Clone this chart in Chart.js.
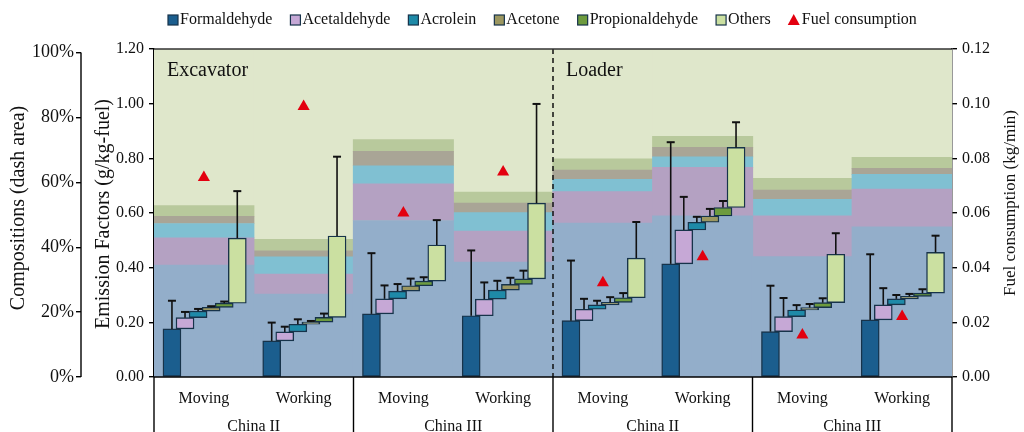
<!DOCTYPE html>
<html>
<head>
<meta charset="utf-8">
<script src="https://cdn.jsdelivr.net/npm/chart.js@4.4.1/dist/chart.umd.min.js"></script>
<style>
  html, body { margin: 0; padding: 0; background: #ffffff; }
  #wrap { width: 1024px; height: 432px; position: relative; }
</style>
</head>
<body>
<div id="wrap"><canvas id="c" width="1024" height="432"></canvas></div>
<script>
// ---- data ----
const conditions = ['Moving', 'Working', 'Moving', 'Working', 'Moving', 'Working', 'Moving', 'Working'];
const standards = ['China II', 'China III', 'China II', 'China III'];
const machines = ['Excavator', 'Loader'];
const compounds = ['Formaldehyde', 'Acetaldehyde', 'Acrolein', 'Acetone', 'Propionaldehyde', 'Others'];

// emission factors, g/kg-fuel
const efFormaldehyde    = [0.176, 0.132, 0.231, 0.224, 0.206, 0.414, 0.166, 0.209];
const efAcetaldehyde    = [0.041, 0.033, 0.055, 0.061, 0.042, 0.124, 0.055, 0.055];
const efAcrolein        = [0.024, 0.028, 0.028, 0.033, 0.016, 0.028, 0.024, 0.022];
const efAcetone         = [0.014, 0.008, 0.020, 0.021, 0.009, 0.023, 0.009, 0.009];
const efPropionaldehyde = [0.015, 0.017, 0.017, 0.020, 0.017, 0.031, 0.018, 0.012];
const efOthers          = [0.238, 0.298, 0.132, 0.277, 0.145, 0.220, 0.177, 0.149];

// standard deviations of the emission factors
const sdFormaldehyde    = [0.103, 0.067, 0.222, 0.239, 0.220, 0.445, 0.168, 0.240];
const sdAcetaldehyde    = [0.021, 0.019, 0.049, 0.061, 0.038, 0.121, 0.068, 0.061];
const sdAcrolein        = [0.008, 0.018, 0.026, 0.034, 0.015, 0.020, 0.018, 0.014];
const sdAcetone         = [0.004, 0.004, 0.026, 0.024, 0.019, 0.026, 0.013, 0.009];
const sdPropionaldehyde = [0.006, 0.014, 0.014, 0.030, 0.017, 0.024, 0.016, 0.014];
const sdOthers          = [0.172, 0.290, 0.091, 0.363, 0.132, 0.092, 0.077, 0.061];

// composition, % of total carbonyls
const pctFormaldehyde    = [34.1, 25.3, 47.7, 35.0, 46.9, 49.1, 36.7, 45.8];
const pctAcetaldehyde    = [8.3, 6.1, 11.2, 9.5, 9.6, 14.8, 12.4, 11.5];
const pctAcrolein        = [4.4, 5.2, 5.5, 5.6, 3.8, 3.2, 5.1, 4.5];
const pctAcetone         = [2.2, 1.9, 4.4, 2.9, 2.8, 2.9, 2.8, 1.8];
const pctPropionaldehyde = [3.3, 3.5, 3.6, 3.4, 3.4, 3.4, 3.6, 3.4];
const pctOthers          = [47.7, 58.0, 27.6, 43.6, 33.5, 26.6, 39.4, 33.0];

// fuel consumption, kg/min
const fuelConsumption = [0.073, 0.099, 0.060, 0.075, 0.0345, 0.044, 0.0154, 0.0221];

// composition axis labels
const compositionTicks = [0, 20, 40, 60, 80, 100];

// ---- styling ----
const FONT = "'Liberation Serif', 'Times New Roman', serif";
const barColors  = ['#1b5e8e', '#c6a8d6', '#1e8aa8', '#9c9760', '#6d9b3e', '#cbe0a1'];
const bandColors = ['#93aeca', '#b4a1c2', '#80c0d2', '#a9a596', '#b8c99c', '#dfe7cb'];
const barBorder = '#17334a';
const fuelColor = '#e3000f';

const efSeries  = [efFormaldehyde, efAcetaldehyde, efAcrolein, efAcetone, efPropionaldehyde, efOthers];
const sdSeries  = [sdFormaldehyde, sdAcetaldehyde, sdAcrolein, sdAcetone, sdPropionaldehyde, sdOthers];
const pctSeries = [pctFormaldehyde, pctAcetaldehyde, pctAcrolein, pctAcetone, pctPropionaldehyde, pctOthers];

// running totals -> [start, end] of each floating segment
function cumulate(series) {
  const base = conditions.map(() => 0);
  return series.map(s => s.map((v, i) => { const a = base[i]; base[i] = a + v; return [a, a + v]; }));
}
const efStack = cumulate(efSeries);
const pctStack = cumulate(pctSeries);

// layout of the plot box
const PLOT_LEFT = 154, PLOT_RIGHT = 952, PLOT_TOP = 49, PLOT_BOTTOM = 377;
const groupWidth = (PLOT_RIGHT - PLOT_LEFT) / conditions.length;
const stepOffsets = compounds.map((_, k) => 0.18 + 0.131 * k);

const datasets = [];
// fuel consumption markers
datasets.push({
  type: 'line', label: 'Fuel consumption', yAxisID: 'y2', order: 0, showLine: false,
  data: fuelConsumption.map((v, i) => ({ x: i + 0.5, y: v })),
  pointStyle: 'triangle', pointRadius: 7, pointHoverRadius: 7,
  backgroundColor: fuelColor, borderColor: fuelColor, borderWidth: 0
});
// step bars of emission factors
compounds.forEach((name, k) => {
  datasets.push({
    type: 'bar', label: name, yAxisID: 'y', order: 5, grouped: false,
    data: efStack[k].map((r, i) => ({ x: i + stepOffsets[k], y: r })),
    backgroundColor: barColors[k], borderColor: barBorder, borderWidth: 1.4,
    borderSkipped: false, barThickness: 18
  });
});
// composition bands behind everything
compounds.forEach((name, k) => {
  datasets.push({
    type: 'bar', label: name + ' (composition)', yAxisID: 'yb', order: 10, grouped: false,
    data: pctStack[k].map((r, i) => ({ x: i + 0.5, y: r })),
    backgroundColor: bandColors[k], borderWidth: 0, borderSkipped: false,
    barThickness: groupWidth + 0.6
  });
});

const tickFont = { family: FONT, size: 16 };
function axisCommon(extra) {
  return Object.assign({
    grid: { display: true, drawOnChartArea: false, drawTicks: true, tickLength: 5, color: '#000', lineWidth: 1.4 },
    border: { display: true, color: '#000', width: 1.4 },
  }, extra);
}

// error bars on top of each step
const errorBars = {
  id: 'errorBars',
  afterDatasetsDraw(chart) {
    const { ctx, scales: { x, y } } = chart;
    ctx.save();
    ctx.strokeStyle = '#111';
    compounds.forEach((_, k) => {
      efStack[k].forEach((r, i) => {
        const px = x.getPixelForValue(i + stepOffsets[k]);
        const y0 = y.getPixelForValue(r[1]);
        const y1 = y.getPixelForValue(r[1] + sdSeries[k][i]);
        ctx.lineWidth = 1.6;
        ctx.beginPath();
        ctx.moveTo(px, y0); ctx.lineTo(px, y1);
        ctx.stroke();
        ctx.lineWidth = 2;
        ctx.beginPath();
        ctx.moveTo(px - 4, y1); ctx.lineTo(px + 4, y1);
        ctx.stroke();
      });
    });
    ctx.restore();
  }
};

// frame, divider, machine names, category labels, titles and key
const decorations = {
  id: 'decorations',
  beforeDatasetsDraw(chart) {
    const { ctx, chartArea: a } = chart;
    ctx.save();
    ctx.fillStyle = bandColors[5];
    ctx.fillRect(a.left, a.top, a.right - a.left, a.bottom - a.top);
    ctx.restore();
  },
  afterDatasetsDraw(chart) {
    const { ctx, chartArea: a, scales: { x } } = chart;
    ctx.save();
    // divider between machines
    const xd = x.getPixelForValue(4);
    ctx.strokeStyle = '#111';
    ctx.lineWidth = 1.5;
    ctx.setLineDash([5, 4]);
    ctx.beginPath(); ctx.moveTo(xd, a.top); ctx.lineTo(xd, a.bottom); ctx.stroke();
    ctx.setLineDash([]);
    // machine names
    ctx.fillStyle = '#111';
    ctx.font = '20px ' + FONT;
    ctx.textAlign = 'left';
    ctx.textBaseline = 'middle';
    machines.forEach((m, j) => ctx.fillText(m, x.getPixelForValue(j * 4) + 13, a.top + 22));
    ctx.restore();
  },
  afterDraw(chart) {
    const { ctx, chartArea: a, scales: { x, yc } } = chart;
    const H = chart.height;
    ctx.save();
    // top border and bottom axis line
    ctx.strokeStyle = '#333';
    ctx.lineWidth = 1.4;
    ctx.beginPath(); ctx.moveTo(a.left, a.top); ctx.lineTo(a.right, a.top); ctx.stroke();
    ctx.strokeStyle = '#000';
    ctx.beginPath(); ctx.moveTo(a.left, a.bottom); ctx.lineTo(a.right, a.bottom); ctx.stroke();
    // outer composition axis line
    ctx.beginPath(); ctx.moveTo(yc.right, yc.getPixelForValue(100)); ctx.lineTo(yc.right, yc.getPixelForValue(0)); ctx.stroke();
    // category box separators
    [0, 2, 4, 6, 8].forEach(v => {
      const px = x.getPixelForValue(v);
      ctx.beginPath(); ctx.moveTo(px, a.bottom); ctx.lineTo(px, H); ctx.stroke();
    });
    // category labels
    ctx.fillStyle = '#111';
    ctx.font = '16px ' + FONT;
    ctx.textAlign = 'center';
    ctx.textBaseline = 'middle';
    conditions.forEach((c, i) => ctx.fillText(c, x.getPixelForValue(i + 0.5), a.bottom + 22));
    standards.forEach((s, j) => ctx.fillText(s, x.getPixelForValue(j * 2 + 1), a.bottom + 50));
    // axis titles
    const vtitle = (text, cx, cy, size) => {
      ctx.save();
      ctx.translate(cx, cy);
      ctx.rotate(-Math.PI / 2);
      ctx.font = size + 'px ' + FONT;
      ctx.fillText(text, 0, 0);
      ctx.restore();
    };
    vtitle('Compositions (dash area)', 19, 208, 20);
    vtitle('Emission Factors (g/kg-fuel)', 104, 214, 20);
    vtitle('Fuel consumption (kg/min)', 1011, 203, 17);
    // key
    ctx.font = '16px ' + FONT;
    ctx.textAlign = 'left';
    let lx = 168;
    const ly = 20;
    compounds.forEach((name, k) => {
      ctx.fillStyle = barColors[k];
      ctx.fillRect(lx, ly - 5, 10, 10);
      ctx.strokeStyle = barBorder;
      ctx.lineWidth = 1.2;
      ctx.strokeRect(lx, ly - 5, 10, 10);
      ctx.fillStyle = '#111';
      ctx.fillText(name, lx + 12, ly);
      lx += 12 + ctx.measureText(name).width + 18;
    });
    ctx.fillStyle = fuelColor;
    ctx.beginPath();
    ctx.moveTo(lx + 5, ly - 6); ctx.lineTo(lx + 11, ly + 5); ctx.lineTo(lx - 1, ly + 5); ctx.closePath();
    ctx.fill();
    ctx.fillStyle = '#111';
    ctx.fillText('Fuel consumption', lx + 13, ly);
    ctx.restore();
  }
};

new Chart(document.getElementById('c'), {
  data: { datasets },
  options: {
    responsive: false,
    animation: false,
    layout: { padding: { top: PLOT_TOP, bottom: 432 - PLOT_BOTTOM, left: 0, right: 0 } },
    plugins: { legend: { display: false }, tooltip: { enabled: false } },
    scales: {
      x: { type: 'linear', min: 0, max: conditions.length, offset: false, display: false },
      yb: { type: 'linear', min: 0, max: 100, display: false },
      yc: axisCommon({
        type: 'linear', position: 'left', weight: 2, min: 0, max: 101.1,
        border: { display: false },
        ticks: { font: { family: FONT, size: 18 }, color: '#111', padding: 2,
                 callback: v => Math.round(v) + '%' },
        afterBuildTicks: s => { s.ticks = compositionTicks.map(v => ({ value: v })); },
        afterFit: s => { s.width = 81; }
      }),
      y: axisCommon({
        type: 'linear', position: 'left', weight: 1, min: 0, max: 1.2,
        ticks: { stepSize: 0.2, font: tickFont, color: '#111', padding: 5, callback: v => v.toFixed(2) },
        afterFit: s => { s.width = PLOT_LEFT - 81; }
      }),
      y2: axisCommon({
        type: 'linear', position: 'right', min: 0, max: 0.12,
        ticks: { stepSize: 0.02, font: tickFont, color: '#111', padding: 5, callback: v => v.toFixed(2) },
        afterFit: s => { s.width = 1024 - PLOT_RIGHT; }
      })
    }
  },
  plugins: [decorations, errorBars]
});
</script>
</body>
</html>
